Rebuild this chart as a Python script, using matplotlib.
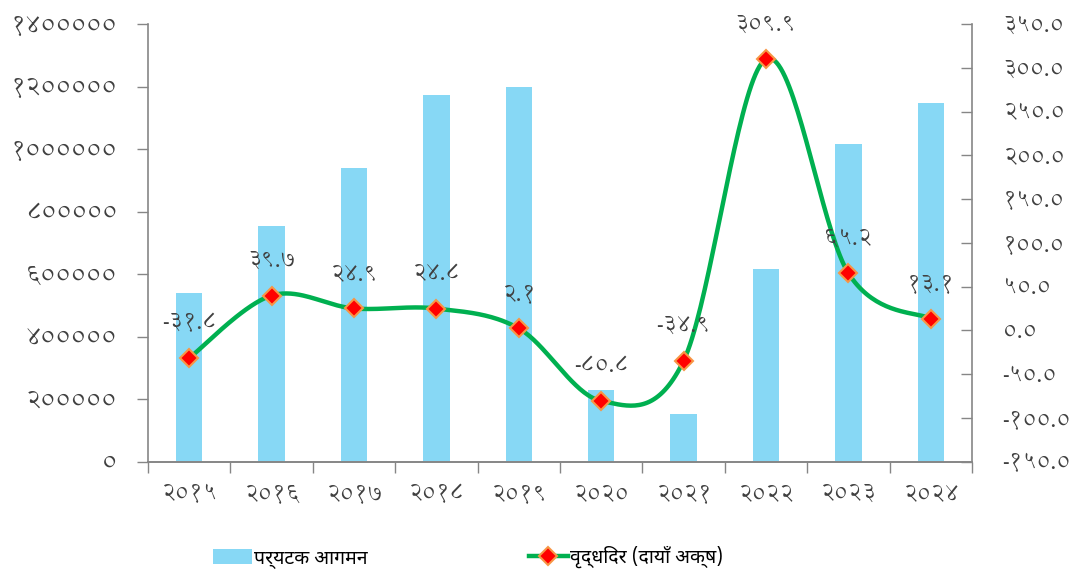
import matplotlib
matplotlib.use("Agg")
import matplotlib.pyplot as plt
import numpy as np
from matplotlib.lines import Line2D
from matplotlib.patches import Patch
from matplotlib.ticker import FuncFormatter, FixedLocator

# ---- data ----
years = ["२०१५", "२०१६", "२०१७", "२०१८", "२०१९", "२०२०", "२०२१", "२०२२", "२०२३", "२०२४"]
arrivals = [538970, 753002, 940218, 1173072, 1197191, 230085, 150962, 614869, 1014882, 1147548]
growth = [-31.8, 39.7, 24.9, 24.8, 2.1, -80.8, -34.9, 309.9, 65.2, 13.1]
bar_label = "पर्यटक आगमन"
line_label = "वृद्धिदर (दायाँ अक्ष)"

DEV = str.maketrans("0123456789", "०१२३४५६७८९")
def dev(s):
    return s.translate(DEV)

TICK_FONT = ["Annapurna SIL", "Lohit Devanagari", "DejaVu Sans"]
LEG_FONT = ["Noto Sans Devanagari", "Lohit Devanagari", "DejaVu Sans"]
TXT = "#404040"
SPINE = "#868686"
BAR_C = "#87D8F5"
LINE_C = "#00B050"
FS = 17

fig = plt.figure(figsize=(10.79, 5.75), dpi=100)
ax = fig.add_axes([148/1079, 1-461.5/575, (972-148)/1079, (461.5-24)/575])
ax2 = ax.twinx()

x = np.arange(len(years))
ax.bar(x, arrivals, width=0.32, color=BAR_C, zorder=1)
ax.set_xlim(-0.5, len(years)-0.5)
ax.set_ylim(0, 1400000)
ax.set_yticks(np.arange(0, 1400001, 200000))
ax.yaxis.set_major_formatter(FuncFormatter(lambda v, p: dev("%d" % v)))
ax.set_xticks(x)
ax.set_xticklabels(years)
ax.xaxis.set_minor_locator(FixedLocator(np.arange(-0.5, len(years), 1.0)))
ax.tick_params(axis='x', which='major', length=0, pad=16, labelsize=FS, labelcolor=TXT)
ax.tick_params(axis='x', which='minor', length=8, width=1, color=SPINE, direction='out')
ax.tick_params(axis='y', length=8, width=1, color=SPINE, direction='out', pad=14,
               labelsize=18.5, labelcolor=TXT)
for lab in ax.get_xticklabels() + ax.get_yticklabels():
    lab.set_family(TICK_FONT)

# right axis
ax2.set_ylim(-150, 350)
ax2.set_yticks(np.arange(-150, 351, 50))
ax2.yaxis.set_major_formatter(FuncFormatter(lambda v, p: dev("%.1f" % v)))
ax2.tick_params(axis='y', length=8, width=1, color=SPINE, direction='in', pad=22,
                labelsize=FS, labelcolor=TXT)
for lab in ax2.get_yticklabels():
    lab.set_family(TICK_FONT)

for a in (ax, ax2):
    a.spines["top"].set_visible(False)
    for s in ("left", "right", "bottom"):
        a.spines[s].set_color(SPINE)
        a.spines[s].set_linewidth(1.2)
ax2.spines["left"].set_visible(False)
ax.spines["right"].set_visible(False)

# smoothed line (Catmull-Rom in pixel-proportional space)
ax_w = (972-148)/len(years)          # px per category
ax_h = (461.5-24)/500.0               # px per unit on right axis
px = x * ax_w
py = np.array(growth) * ax_h
P = np.column_stack([px, py])
curve = []
n = len(P)
for i in range(n-1):
    p0 = P[i-1] if i > 0 else P[i]
    p1 = P[i]
    p2 = P[i+1]
    p3 = P[i+2] if i+2 < n else P[i+1]
    c1 = p1 + (p2 - p0)/6.0
    c2 = p2 - (p3 - p1)/6.0
    t = np.linspace(0, 1, 40)[:, None]
    seg = (1-t)**3*p1 + 3*(1-t)**2*t*c1 + 3*(1-t)*t**2*c2 + t**3*p2
    curve.append(seg if i == 0 else seg[1:])
curve = np.vstack(curve)
ax2.plot(curve[:, 0]/ax_w, curve[:, 1]/ax_h, color=LINE_C, lw=3.2, zorder=3,
         solid_capstyle='round')
ax2.plot(x, growth, linestyle='none', marker='D', markersize=9, markerfacecolor='#FF0000',
         markeredgecolor='#F79646', markeredgewidth=1.5, zorder=4)

for xi, g in zip(x, growth):
    ax2.annotate(dev("%.1f" % g), (xi, g), xytext=(0, 25), textcoords='offset points',
                 ha='center', va='center', fontsize=FS, color=TXT, family=TICK_FONT, zorder=5)

ax2.set_zorder(ax.get_zorder()+1)
ax2.patch.set_visible(False)

handles = [Patch(facecolor=BAR_C, edgecolor='none'),
           Line2D([0], [0], color=LINE_C, lw=3.2, marker='D', markersize=9,
                  markerfacecolor='#FF0000', markeredgecolor='#F79646', markeredgewidth=1.5)]
leg = fig.legend(handles, [bar_label, line_label], loc='center', bbox_to_anchor=(468/1079, 1-557/575),
                 ncol=2, frameon=False, handlelength=2.0, handleheight=0.8, handletextpad=0.1,
                 columnspacing=8.3, prop={'family': LEG_FONT, 'size': 14})
for t in leg.get_texts():
    t.set_color("#000000")

fig.savefig("out.png", dpi=100)
